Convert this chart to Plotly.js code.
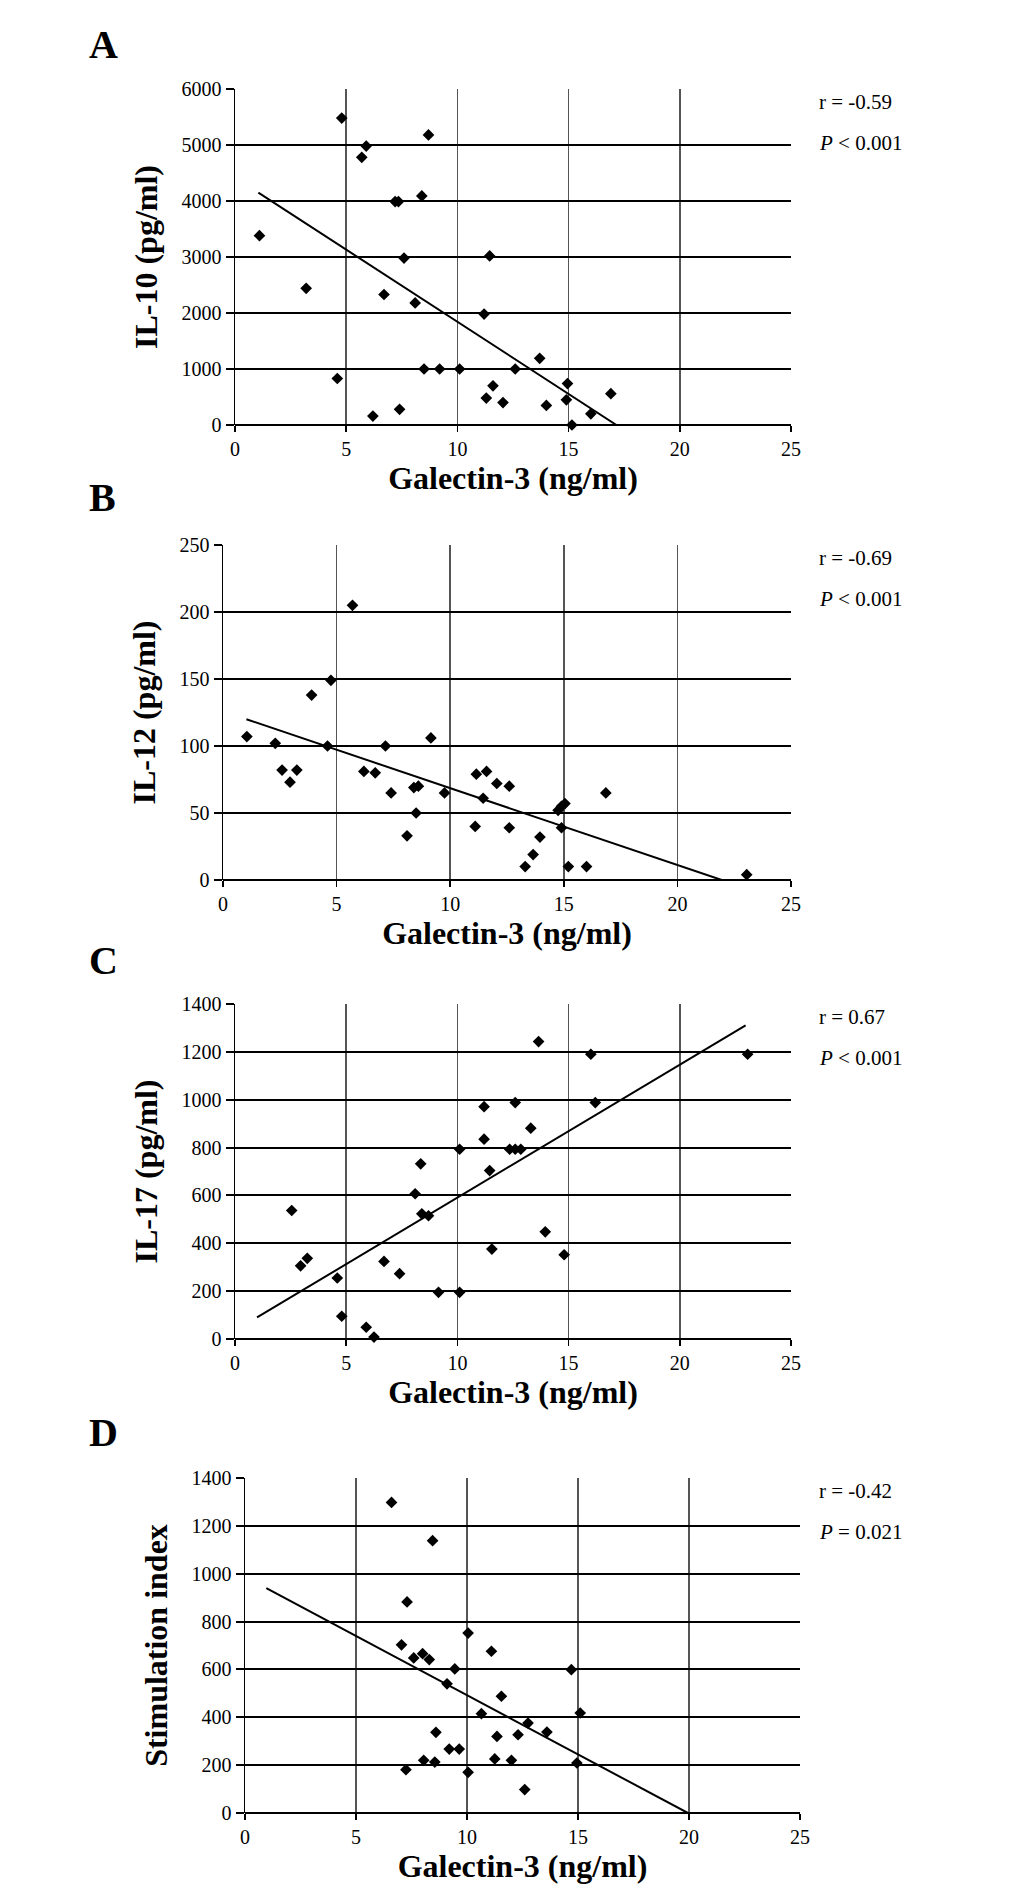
<!DOCTYPE html>
<html>
<head>
<meta charset="utf-8">
<script src="https://cdn.plot.ly/plotly-3.0.1.min.js"></script>
<style>
  body { margin: 0; background: #fff; }
  #my_graph { width: 1033px; height: 1892px; }
</style>
</head>
<body>
<div id="my_graph"></div>
<script>
// A: IL-10
const aX = [1.1, 3.2, 4.6, 4.8, 5.7, 5.9, 6.2, 6.7, 7.2, 7.35, 7.4, 7.6, 8.1, 8.4, 8.5, 8.7, 9.2, 10.1, 11.2, 11.3, 11.45, 11.6, 12.05, 12.6, 13.7, 14.0, 14.9, 14.95, 15.15, 16.0, 16.9];
const aY = [3380, 2440, 830, 5480, 4780, 4980, 160, 2330, 3990, 3990, 280, 2980, 2180, 4090, 1000, 5180, 1000, 1000, 1980, 480, 3020, 700, 400, 1000, 1190, 350, 450, 740, 0, 200, 560];
const aFitX = [1.05, 17.15];
const aFitY = [4150, 0];

// B: IL-12
const bX = [1.05, 2.3, 2.6, 2.95, 3.25, 3.9, 4.6, 4.75, 5.7, 6.2, 6.7, 7.15, 7.4, 8.1, 8.4, 8.6, 8.5, 9.15, 9.75, 11.15, 11.1, 11.45, 11.6, 12.05, 12.6, 12.6, 13.3, 13.65, 13.95, 14.75, 14.9, 15.05, 14.9, 15.2, 16.0, 16.85, 23.05];
const bY = [107, 102, 82, 73, 82, 138, 100, 149, 205, 81, 80, 100, 65, 33, 69, 70, 50, 106, 65, 79, 40, 61, 81, 72, 39, 70, 10, 19, 32, 52, 55, 57, 39, 10, 10, 65, 4];
const bFitX = [1.03, 21.95];
const bFitY = [120, 0];

// C: IL-17
const cX = [2.55, 2.95, 3.25, 4.6, 4.8, 5.9, 6.25, 6.7, 7.4, 8.1, 8.35, 8.4, 8.7, 9.15, 10.1, 10.1, 11.2, 11.2, 11.45, 11.55, 12.35, 12.6, 12.85, 12.6, 13.3, 13.65, 13.95, 14.8, 16.0, 16.2, 23.05];
const cY = [537, 306, 337, 255, 95, 49, 8, 324, 273, 607, 732, 523, 515, 195, 195, 793, 971, 835, 704, 376, 793, 793, 793, 988, 881, 1243, 448, 352, 1190, 988, 1190];
const cFitX = [0.99, 22.96];
const cFitY = [90, 1311];

// D: stimulation index
const dX = [6.6, 7.05, 7.25, 7.3, 7.6, 8.0, 8.05, 8.3, 8.45, 8.55, 8.6, 9.1, 9.2, 9.45, 9.65, 10.05, 10.05, 10.65, 11.1, 11.25, 11.35, 11.55, 12.0, 12.3, 12.6, 12.75, 13.6, 14.7, 14.95, 15.1];
const dY = [1298, 703, 181, 882, 648, 666, 220, 641, 1138, 213, 337, 540, 267, 602, 267, 752, 170, 415, 676, 226, 320, 488, 220, 327, 98, 376, 338, 599, 209, 418];
const dFitX = [0.96, 19.95];
const dFitY = [940, 0];

const panelLetters = ['A', 'B', 'C', 'D'];
const yTitles = ['IL-10 (pg/ml)', 'IL-12 (pg/ml)', 'IL-17 (pg/ml)', 'Stimulation index'];
const rTexts = ['r = -0.59', 'r = -0.69', 'r = 0.67', 'r = -0.42'];
const pTexts = ['<i>P</i> < 0.001', '<i>P</i> < 0.001', '<i>P</i> < 0.001', '<i>P</i> = 0.021'];
const yRanges = [[0, 6000], [0, 250], [0, 1400], [0, 1400]];
const yDticks = [1000, 50, 200, 200];

const W = 1033, H = 1892;
// plot boxes in pixels: left, right, top, bottom
const boxes = [
    [235, 791, 89, 425],
    [223, 791, 545, 880],
    [235, 791, 1004, 1339],
    [245, 800, 1478, 1813]
];
const letterY = [45, 498, 960, 1432];

const serif = 'Liberation Serif, Times New Roman, serif';

const sets = [[aX, aY, aFitX, aFitY], [bX, bY, bFitX, bFitY], [cX, cY, cFitX, cFitY], [dX, dY, dFitX, dFitY]];

const data = [];
const layout = {
    width: W,
    height: H,
    margin: {l: 0, r: 0, t: 0, b: 0},
    paper_bgcolor: '#fff',
    plot_bgcolor: '#fff',
    showlegend: false,
    font: {family: serif, color: '#000'},
    annotations: []
};

sets.forEach((s, i) => {
    const n = i === 0 ? '' : String(i + 1);
    data.push({
        type: 'scatter', mode: 'markers',
        x: s[0], y: s[1],
        xaxis: 'x' + n, yaxis: 'y' + n,
        marker: {symbol: 'diamond', size: 9, color: '#000'},
        cliponaxis: false
    });
    data.push({
        type: 'scatter', mode: 'lines',
        x: s[2], y: s[3],
        xaxis: 'x' + n, yaxis: 'y' + n,
        line: {color: '#000', width: 2}
    });

    const b = boxes[i];
    layout['xaxis' + n] = {
        domain: [b[0] / W, b[1] / W],
        anchor: 'y' + n,
        range: [0, 25], dtick: 5, tick0: 0,
        showgrid: true, gridcolor: '#555', gridwidth: 1.5,
        zeroline: false, showline: false,
        ticks: 'outside', ticklen: 6, tickwidth: 1.5, tickcolor: '#000',
        tickfont: {size: 20, family: serif, color: '#000'},
        title: {text: 'Galectin-3 (ng/ml)', font: {size: 32, family: serif, weight: 'bold', color: '#000'}, standoff: 6},
        fixedrange: true
    };
    layout['yaxis' + n] = {
        domain: [1 - b[3] / H, 1 - b[2] / H],
        anchor: 'x' + n,
        range: yRanges[i], dtick: yDticks[i], tick0: 0,
        showgrid: true, gridcolor: '#000', gridwidth: 2,
        zeroline: true, zerolinecolor: '#000', zerolinewidth: 2,
        showline: true, linecolor: '#000', linewidth: 1.5,
        ticks: 'outside', ticklen: 8, tickwidth: 2, tickcolor: '#000',
        tickfont: {size: 20, family: serif, color: '#000'},
        title: {text: yTitles[i], font: {size: 32, family: serif, weight: 'bold', color: '#000'}, standoff: 14},
        fixedrange: true
    };

    layout.annotations.push({
        xref: 'paper', yref: 'paper', x: 87 / W, y: 1 - letterY[i] / H,
        xanchor: 'left', yanchor: 'middle', showarrow: false,
        text: panelLetters[i], font: {size: 40, family: serif, weight: 'bold', color: '#000'}
    });
    layout.annotations.push({
        xref: 'paper', yref: 'paper', x: 817 / W, y: 1 - (b[2] + 13) / H,
        xanchor: 'left', yanchor: 'middle', showarrow: false,
        text: rTexts[i], font: {size: 21, family: serif, color: '#000'}
    });
    layout.annotations.push({
        xref: 'paper', yref: 'paper', x: 817 / W, y: 1 - (b[2] + 54) / H,
        xanchor: 'left', yanchor: 'middle', showarrow: false,
        text: pTexts[i], font: {size: 21, family: serif, color: '#000'}
    });
});

const config = {responsive: false, displayModeBar: false, staticPlot: true};

Plotly.newPlot('my_graph', data, layout, config);
</script>
</body>
</html>
